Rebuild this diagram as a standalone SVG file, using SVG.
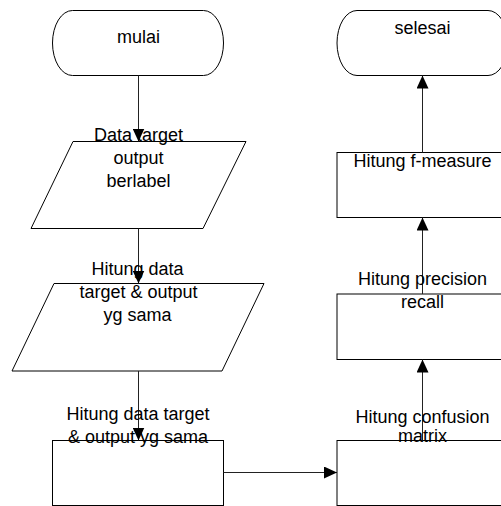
<svg xmlns="http://www.w3.org/2000/svg" width="501" height="506" viewBox="0 0 501 506">
<style>
.shape{fill:#fff;stroke:#000;stroke-width:1}
.lbl{font-family:"Liberation Sans",Arial,sans-serif;font-size:18px;fill:#000;text-anchor:middle}
.conn{fill:none;stroke:#222;stroke-width:1;marker-end:url(#arr)}
</style>
<defs>
<marker id="arr" markerUnits="userSpaceOnUse" markerWidth="13" markerHeight="12" refX="13" refY="6" orient="auto">
<path d="M0,0 L13,6 L0,12 z" fill="#000"/>
</marker>
</defs>
<rect width="501" height="506" fill="#fff"/>
<g id="mulai">
<rect class="shape" x="52.5" y="10.5" width="171" height="65" rx="20" ry="32.5"/>
<text class="lbl" x="138.5" y="43">mulai</text>
</g>
<g id="data-target">
<polygon class="shape" points="73,141.5 246,141.5 203,228.5 31,228.5"/>
</g>
<g id="hitung-data-1">
<polygon class="shape" points="54,283.5 264,283.5 222,371 12,371"/>
</g>
<g id="hitung-data-2">
<rect class="shape" x="52.5" y="440.5" width="171" height="65"/>
</g>
<g id="confusion">
<rect class="shape" x="337" y="440.5" width="171" height="65"/>
</g>
<g id="precision">
<rect class="shape" x="337" y="294" width="171" height="65.5"/>
</g>
<g id="fmeasure">
<rect class="shape" x="337" y="152.5" width="171" height="65"/>
</g>
<g id="selesai">
<rect class="shape" x="337" y="10.5" width="171" height="65" rx="20" ry="32.5"/>
<text class="lbl" x="422.5" y="33.5">selesai</text>
</g>
<g id="connectors">
<path class="conn" d="M138.5,75.5 V141.5"/>
<path class="conn" d="M138.5,228.5 V283.5"/>
<path class="conn" d="M138.5,371 V440.5"/>
<path class="conn" d="M223.5,472.5 H337"/>
<path class="conn" d="M422.5,440.5 V359.5"/>
<path class="conn" d="M422.5,294 V217.5"/>
<path class="conn" d="M422.5,152.5 V75.5"/>
</g>
<g id="labels">
<g id="data-target-label">
<text class="lbl" x="138.5" y="141">Data target</text>
<text class="lbl" x="138.5" y="164">output</text>
<text class="lbl" x="138.5" y="187">berlabel</text>
</g>
<g id="hitung-data-1-label">
<text class="lbl" x="137.5" y="275">Hitung data</text>
<text class="lbl" x="138.5" y="298">target &amp; output</text>
<text class="lbl" x="137.5" y="321">yg sama</text>
</g>
<g id="hitung-data-2-label">
<text class="lbl" x="138" y="420">Hitung data target</text>
<text class="lbl" x="138" y="442.5">&amp; output yg sama</text>
</g>
<g id="confusion-label">
<text class="lbl" x="422.5" y="423">Hitung confusion</text>
<text class="lbl" x="422.5" y="442">matrix</text>
</g>
<g id="precision-label">
<text class="lbl" x="422.5" y="285">Hitung precision</text>
<text class="lbl" x="422.5" y="307.5">recall</text>
</g>
<g id="fmeasure-label">
<text class="lbl" x="422.5" y="166.5">Hitung f-measure</text>
</g>
</g>
</svg>
